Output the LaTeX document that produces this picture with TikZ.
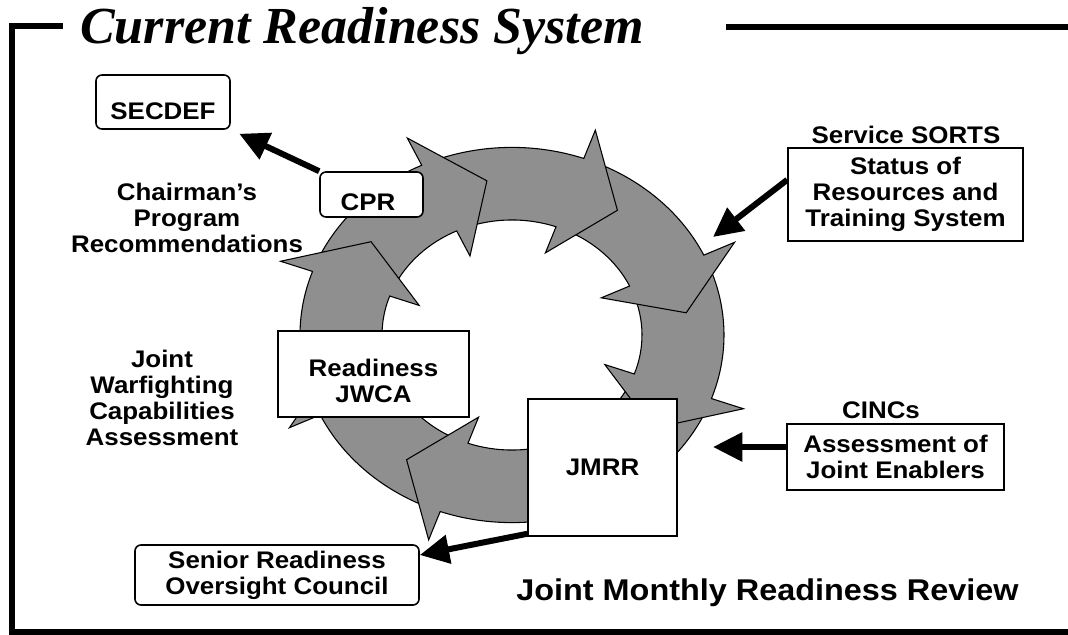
\documentclass[tikz,border=0pt]{standalone}
\usepackage{fontspec}
\setmainfont{Liberation Sans}[FakeStretch=1.08]
\newfontfamily\titlefont{Liberation Serif}
\usepackage{tikz}
\usetikzlibrary{arrows.meta}
\definecolor{ringgray}{RGB}{143,143,143}
\newcommand{\labfont}{\bfseries\fontsize{18}{19.5}\selectfont}

\begin{document}
\begin{tikzpicture}[
    x=0.75pt, y=-0.75pt,
    frameline/.style={line width=4.5pt, line join=miter},
    segment/.style={draw, fill=ringgray, line width=0.8pt, line join=miter},
    box/.style={draw, fill=white, line width=1.2pt, inner sep=0pt, align=center, font=\labfont},
    roundbox/.style={box, rounded corners=4.5pt},
    lbl/.style={align=center, font=\labfont, inner sep=0pt},
    bigarrow/.style={line width=4.5pt, -{Triangle[length=22pt, width=21pt]}}
]
\useasboundingbox (0,0) rectangle (1068,635);

% Frame and title
\draw[frameline] (63,26.5) -- (12,26.5) -- (12,632) -- (1068,632);
\draw[frameline] (726,27) -- (1068,27);
\node[anchor=base west, inner sep=0pt, font={\titlefont\bfseries\itshape\fontsize{39}{40}\selectfont}] (title) at (80,44) {Current Readiness System};

% Ring of arrows
\begin{scope}[shift={(512,335)}, yscale=0.885]
\foreach \t in {-81.8,-36.8,...,233.2}
  \filldraw[segment] (\t+58:159pt) arc[start angle=\t+58, end angle=\t+17, radius=159pt]
    -- (\t+17:184.5pt) -- (\t:132pt) -- (\t+17:74pt) -- (\t+17:97.5pt)
    arc[start angle=\t+17, end angle=\t+58, radius=97.5pt] -- cycle;
\end{scope}

% Boxes
\node[roundbox, minimum width=100.5pt, minimum height=40.5pt] (secdef) at (163,102) {};
\node[roundbox, minimum width=77.25pt, minimum height=33.75pt] (cpr) at (371.5,194.5) {};
\node[box, minimum width=143.25pt, minimum height=64.5pt] (jwca) at (373.5,374) {};
\node[box, minimum width=111.75pt, minimum height=102.75pt] (jmrr) at (602.5,467.5) {JMRR};
\node[box, minimum width=176.25pt, minimum height=69.75pt] (sorts) at (905.5,194.5) {Status of\\Resources and\\Training System};
\node[box, minimum width=162.75pt, minimum height=49.5pt] (cincs) at (895.5,457) {Assessment of\\Joint Enablers};
\node[roundbox, minimum width=213pt, minimum height=45pt] (sroc) at (277,575) {Senior Readiness\\Oversight Council};

% Box texts set low
\node[lbl, yshift=-6.75pt] (secdeftext) at (secdef) {SECDEF};
\node[lbl, yshift=-5.6pt, xshift=-2.6pt] (cprtext) at (cpr) {CPR};
\node[lbl, yshift=-4.9pt] (jwcatext) at (jwca) {Readiness\\JWCA};

% Labels
\node[lbl] (cprlbl) at (187,218) {Chairman’s\\Program\\Recommendations};
\node[lbl] (jwcalbl) at (162,398) {Joint\\Warfighting\\Capabilities\\Assessment};
\node[lbl, anchor=base] (sortslbl) at (906,143) {Service SORTS};
\node[lbl, anchor=base] (cincslbl) at (881,418) {CINCs};
\node[anchor=base, inner sep=0pt, font=\bfseries\fontsize{22.5}{24}\selectfont] (jmrrlbl) at (767.5,600) {Joint Monthly Readiness Review};

% Connections
\coordinate (sortsin) at (713,237);
\coordinate (cincsin) at (713,447);
\draw[bigarrow, shorten >=7pt] (cpr.north west) -- (secdef.south east);
\draw[bigarrow] ([yshift=11pt]sorts.west) -- (sortsin);
\draw[bigarrow] ([yshift=7.5pt]cincs.west) -- (cincsin);
\draw[bigarrow] ([yshift=2.25pt]jmrr.south west) -- ([yshift=15pt]sroc.east);

\end{tikzpicture}
\end{document}
